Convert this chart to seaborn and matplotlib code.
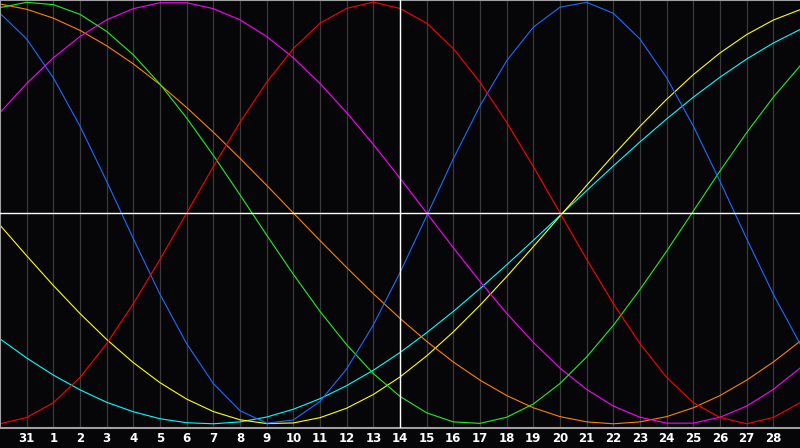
import pandas as pd
import seaborn as sns
import matplotlib
matplotlib.use("Agg")
import matplotlib.pyplot as plt

# day index 0 = Jan 30 ... 30 = Mar 1, today (Feb 14) = index 15
days = list(range(31))
tick_pos = list(range(1, 30))
tick_labels = ["31"] + [str(d) for d in range(1, 29)]
today = 15

physical = [0.947, 0.825, 0.641, 0.412, 0.150, -0.122, -0.386, -0.620, -0.809, -0.938,
            -0.997, -0.982, -0.894, -0.740, -0.531, -0.283, -0.014, 0.257, 0.508, 0.722,
            0.881, 0.976, 0.999, 0.947, 0.825, 0.641, 0.412, 0.150, -0.122, -0.386, -0.620]
emotional = [-1.00, -0.97, -0.90, -0.78, -0.62, -0.43, -0.22, 0.00, 0.22, 0.43,
             0.62, 0.78, 0.90, 0.97, 1.00, 0.97, 0.90, 0.78, 0.62, 0.43,
             0.22, 0.00, -0.22, -0.43, -0.62, -0.78, -0.90, -0.97, -1.00, -0.97, -0.90]
intellectual = [0.974, 0.999, 0.988, 0.942, 0.861, 0.750, 0.611, 0.450, 0.273, 0.086,
                -0.105, -0.291, -0.467, -0.625, -0.762, -0.870, -0.948, -0.991, -0.998, -0.969,
                -0.906, -0.809, -0.683, -0.533, -0.363, -0.181, 0.009, 0.199, 0.381, 0.549, 0.697]
intuitive = [0.476, 0.614, 0.736, 0.837, 0.916, 0.969, 0.997, 0.997, 0.969, 0.916,
             0.837, 0.736, 0.614, 0.476, 0.325, 0.165, 0.000, -0.165, -0.325, -0.476,
             -0.614, -0.736, -0.837, -0.916, -0.969, -0.997, -0.997, -0.969, -0.916, -0.837, -0.736]
awareness = [0.991, 0.966, 0.924, 0.866, 0.793, 0.707, 0.609, 0.500, 0.383, 0.259,
             0.131, 0.000, -0.131, -0.259, -0.383, -0.500, -0.609, -0.707, -0.793, -0.866,
             -0.924, -0.966, -0.991, -1.000, -0.991, -0.966, -0.924, -0.866, -0.793, -0.707, -0.609]
aesthetic = [-0.058, -0.203, -0.344, -0.477, -0.600, -0.710, -0.805, -0.883, -0.942, -0.981,
             -0.999, -0.996, -0.971, -0.926, -0.861, -0.778, -0.678, -0.564, -0.438, -0.302,
             -0.160, -0.015, 0.131, 0.274, 0.411, 0.539, 0.656, 0.759, 0.846, 0.915, 0.964]
spiritual = [-0.597, -0.688, -0.769, -0.839, -0.898, -0.943, -0.976, -0.995, -1.000, -0.991,
             -0.968, -0.931, -0.881, -0.819, -0.746, -0.662, -0.568, -0.467, -0.359, -0.246,
             -0.130, -0.012, 0.106, 0.223, 0.337, 0.446, 0.549, 0.644, 0.730, 0.806, 0.870]

series = {
    "spiritual": spiritual,
    "aesthetic": aesthetic,
    "awareness": awareness,
    "intuitive": intuitive,
    "intellectual": intellectual,
    "physical": physical,
    "emotional": emotional,
}
colors = {
    "spiritual": "#00ffff",
    "aesthetic": "#ffff00",
    "awareness": "#ff8000",
    "intuitive": "#ff00ff",
    "intellectual": "#22ee22",
    "physical": "#1a6cff",
    "emotional": "#ff0000",
}

df = pd.concat(
    [pd.DataFrame({"day": days, "value": vals, "cycle": name}) for name, vals in series.items()],
    ignore_index=True,
)

bg = "#060609"
fig = plt.figure(figsize=(8, 4.48), dpi=100, facecolor=bg)
ax = fig.add_axes([0, 20 / 448, 1, 428 / 448])
ax.set_facecolor(bg)

for d in tick_pos:
    ax.axvline(d, color="#3a3a3a", lw=0.9, zorder=0)

sns.lineplot(data=df, x="day", y="value", hue="cycle", palette=colors,
             legend=False, linewidth=0.8, ax=ax, zorder=2)

ax.axvline(today, color="white", lw=1, zorder=3)
ax.axhline(0, color="white", lw=1, zorder=3)

ax.set_xlim(0, 30)
ax.set_ylim(-1.02, 1.01)
ax.set_xticks(tick_pos)
ax.set_xticklabels(tick_labels)
ax.set_yticks([])
ax.tick_params(axis="x", length=0, pad=3, colors="white", labelsize=8.5)
for lbl in ax.get_xticklabels():
    lbl.set_fontweight("bold")
ax.set_xlabel("")
ax.set_ylabel("")

for side in ["top", "left", "bottom"]:
    ax.spines[side].set_color("#a0a0a0")
    ax.spines[side].set_linewidth(1.5)
ax.spines["right"].set_visible(False)

fig.savefig("out.png", dpi=100, facecolor=bg)
